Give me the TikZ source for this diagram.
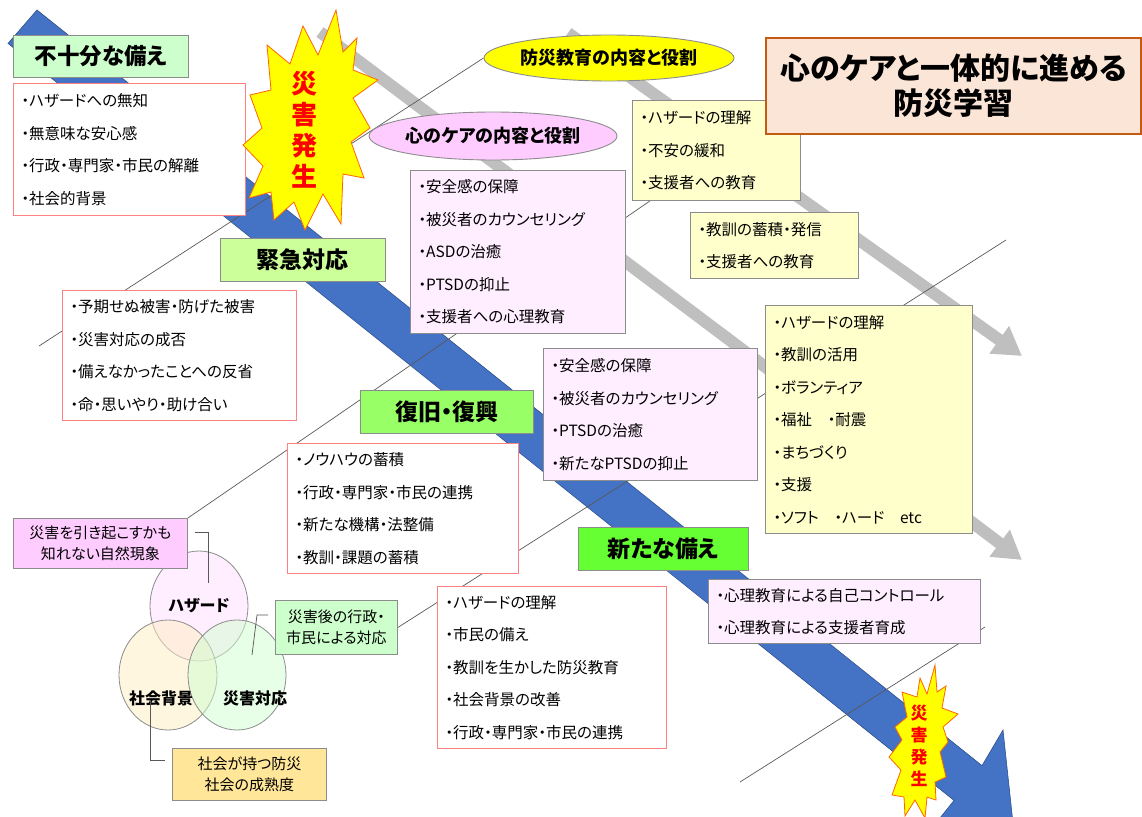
\documentclass[tikz,border=0pt]{standalone}
\usepackage{fontspec}
\setmainfont{Noto Sans CJK JP}[CharacterWidth=AlternateProportional]
\usetikzlibrary{shapes.geometric,arrows.meta}
\pgfdeclarelayer{bands}
\pgfdeclarelayer{links}
\pgfsetlayers{bands,links,main}

\definecolor{bandblue}{HTML}{4472C4}
\definecolor{bandedge}{HTML}{2F528F}
\definecolor{arrowgray}{HTML}{BFBFBF}
\definecolor{linegray}{HTML}{595959}
\definecolor{pinkedge}{HTML}{FF8080}
\definecolor{boxedge}{HTML}{8C8C8C}
\definecolor{lavender}{HTML}{FFEEFF}
\definecolor{creamy}{HTML}{FFFFCC}
\definecolor{lightgreen}{HTML}{CCFFCC}
\definecolor{limegreen}{HTML}{CCFF99}
\definecolor{brightgreen}{HTML}{99FF66}
\definecolor{vividgreen}{HTML}{66FF33}
\definecolor{peach}{HTML}{FBE5D6}
\definecolor{titleedge}{HTML}{C55A11}
\definecolor{pinkfill}{HTML}{FFCCFF}
\definecolor{sunyellow}{HTML}{FFFF00}
\definecolor{burstedge}{HTML}{FF6600}
\definecolor{burstred}{HTML}{FF0000}
\definecolor{amber}{HTML}{FFE699}
\definecolor{hazfill}{HTML}{FFDDFF}
\definecolor{socfill}{HTML}{FFEDC0}
\definecolor{resfill}{HTML}{D0FFD0}

\begin{document}
\begin{tikzpicture}[x=1pt,y=-1pt,
  listbox/.style={rectangle, anchor=north west, align=left, inner xsep=8pt, inner ysep=0pt,
    line width=0.9pt, font=\fontsize{15.5}{32.5}\selectfont},
  pinkbox/.style={listbox, draw=pinkedge, fill=white},
  lavbox/.style={listbox, draw=boxedge, fill=lavender},
  yelbox/.style={listbox, draw=boxedge, fill=creamy},
  stagelabel/.style={rectangle, anchor=north west, draw=boxedge, line width=0.9pt, inner sep=0pt,
    font=\fontsize{23}{26}\selectfont\bfseries},
  oval/.style={ellipse, draw=boxedge, line width=0.9pt, inner sep=0pt,
    font=\fontsize{18}{20}\selectfont\bfseries},
  callout/.style={rectangle, anchor=north west, draw=boxedge, line width=0.9pt, inner sep=0pt,
    align=center, font=\fontsize{15}{21}\selectfont},
  guideline/.style={draw=linegray, line width=0.7pt},
  grayarrow/.style={draw=arrowgray, line width=12pt, -{Triangle[length=28pt,width=32pt]}},
  venn/.style={ellipse, draw=boxedge, line width=0.8pt, fill opacity=0.5, draw opacity=1,
    minimum width=98pt, minimum height=110pt, inner sep=0pt},
  vennlabel/.style={font=\fontsize{16}{18}\selectfont\bfseries, inner sep=0pt},
  burst/.style={fill=sunyellow, draw=burstedge, line width=0.8pt, line join=miter},
  bursttext/.style={text=burstred, align=center, inner sep=0pt}
]
\useasboundingbox (0,0) rectangle (1142,816);
\clip (0,0) rectangle (1142,816);

% ---------- stage labels and list boxes ----------
\node[stagelabel, fill=lightgreen, minimum width=175pt, minimum height=42pt,
      font=\fontsize{22.5}{26}\selectfont\bfseries] (lab1) at (13,35) {不十分な備え};
\node[pinkbox, text width=216pt, minimum height=132pt] (b1) at (13,83)
  {・ハザードへの無知\\・無意味な安心感\\・行政・専門家・市民の解離\\・社会的背景};

\node[stagelabel, fill=limegreen, minimum width=165pt, minimum height=43pt] (lab2) at (220,238) {緊急対応};
\node[pinkbox, text width=218pt, minimum height=130pt] (b2) at (62,290)
  {・予期せぬ被害・防げた被害\\・災害対応の成否\\・備えなかったことへの反省\\・命・思いやり・助け合い};

\node[stagelabel, fill=brightgreen, minimum width=173pt, minimum height=43pt] (lab3) at (360,390) {復旧・復興};
\node[pinkbox, text width=215pt, minimum height=130pt] (b3) at (287,443)
  {・ノウハウの蓄積\\・行政・専門家・市民の連携\\・新たな機構・法整備\\・教訓・課題の蓄積};

\node[stagelabel, fill=vividgreen, minimum width=170pt, minimum height=43pt] (lab4) at (578,527) {新たな備え};
\node[pinkbox, text width=213pt, minimum height=162pt] (b4) at (437,586)
  {・ハザードの理解\\・市民の備え\\・教訓を生かした防災教育\\・社会背景の改善\\・行政・専門家・市民の連携};

% ---------- heart-care boxes ----------
\node[oval, fill=pinkfill, minimum width=248pt, minimum height=48pt] (e2) at (493,136) {心のケアの内容と役割};
\node[lavbox, text width=199pt, minimum height=163pt] (c1) at (410,170)
  {・安全感の保障\\・被災者のカウンセリング\\・ASDの治癒\\・PTSDの抑止\\・支援者への心理教育};
\node[lavbox, text width=198pt, minimum height=132pt] (c2) at (543,348)
  {・安全感の保障\\・被災者のカウンセリング\\・PTSDの治癒\\・新たなPTSDの抑止};
\node[lavbox, text width=256pt, minimum height=64pt] (c3) at (708,579)
  {・心理教育による自己コントロール\\・心理教育による支援者育成};

% ---------- education boxes ----------
\node[oval, fill=sunyellow, minimum width=247pt, minimum height=46pt] (e1) at (609,58) {防災教育の内容と役割};
\node[yelbox, text width=152pt, minimum height=100pt] (y1) at (632,100)
  {・ハザードの理解\\・不安の緩和\\・支援者への教育};
\node[yelbox, text width=152pt, minimum height=66pt] (y2) at (690,212)
  {・教訓の蓄積・発信\\・支援者への教育};
\node[yelbox, text width=191pt, minimum height=228pt] (y3) at (765,305)
  {・ハザードの理解\\・教訓の活用\\・ボランティア\\・福祉　・耐震\\・まちづくり\\・支援\\・ソフト　・ハード　etc};

% ---------- title ----------
\node[rectangle, anchor=north west, draw=titleedge, line width=2pt, fill=peach,
      minimum width=375pt, minimum height=96pt, inner sep=0pt, align=center,
      font=\fontsize{30}{35}\selectfont\bfseries] (title) at (765,37)
  {心のケアと一体的に進める\\防災学習};

% ---------- Venn diagram ----------
\node[venn, fill=hazfill] (hz) at (199,606) {};
\node[venn, fill=socfill] (sc) at (168,675) {};
\node[venn, fill=resfill] (rs) at (237,675) {};
\node[vennlabel] (hzl) at (199,606) {ハザード};
\node[vennlabel] (scl) at (161,698) {社会背景};
\node[vennlabel] (rsl) at (255,698) {災害対応};

\node[callout, fill=pinkfill, minimum width=174pt, minimum height=50pt] (v1) at (13,518)
  {災害を引き起こすかも\\知れない自然現象};
\node[callout, fill=lightgreen, minimum width=122pt, minimum height=54pt] (v2) at (275,600)
  {災害後の行政・\\市民による対応};
\node[callout, fill=amber, minimum width=154pt, minimum height=52pt] (v3) at (172,748)
  {社会が持つ防災\\社会の成熟度};

\coordinate (k1a) at (195,532); \coordinate (k1b) at (208,532); \coordinate (k1c) at (208,583);
\coordinate (k2a) at (268,615); \coordinate (k2b) at (257,615); \coordinate (k2c) at (252,655);
\coordinate (k3a) at (150,700); \coordinate (k3b) at (150,760); \coordinate (k3c) at (165,760);
\draw[guideline] (k1a) -- (k1b) -- (k1c);
\draw[guideline] (k2a) -- (k2b) -- (k2c);
\draw[guideline] (k3a) -- (k3b) -- (k3c);

% ---------- starbursts ----------
\filldraw[burst] (336,10) -- (343,52) -- (357,38) -- (353,70) -- (378,80) -- (353,98)
  -- (370,128) -- (351,142) -- (364,178) -- (343,174) -- (341,224) -- (323,194)
  -- (305,230) -- (294,202) -- (274,220) -- (271,192) -- (249,198) -- (263,166)
  -- (243,145) -- (262,128) -- (250,95) -- (271,90) -- (267,45) -- (290,64)
  -- (303,26) -- (318,55) -- cycle;
\node[bursttext, font=\fontsize{26}{31}\selectfont\bfseries] (burst1) at (304,130) {災\\害\\発\\生};

\filldraw[burst] (935,665) -- (937,692) -- (946,686) -- (942,708) -- (958,714) -- (943,727)
  -- (948,742) -- (940,752) -- (946,777) -- (935,782) -- (936,800) -- (927,797)
  -- (925,818) -- (915,800) -- (905,816) -- (904,797) -- (892,795) -- (901,770)
  -- (889,757) -- (902,740) -- (895,727) -- (907,717) -- (902,692) -- (917,697)
  -- (920,678) -- (927,694) -- cycle;
\node[bursttext, font=\fontsize{17}{22}\selectfont\bfseries] (burst2) at (919,746) {災\\害\\発\\生};

% ---------- background: arrows ----------
\begin{pgfonlayer}{bands}
  \coordinate (g1s) at (568,33); \coordinate (g1e) at (1022,356);
  \coordinate (g2s) at (320,32); \coordinate (g2e) at (1022,560);
  \draw[grayarrow] (g1s) -- (g1e);
  \draw[grayarrow] (g2s) -- (g2e);
  \filldraw[fill=bandblue, draw=bandedge, line width=0.6pt, line join=miter]
    (37,10) -- (982,765.6) -- (1003,730) -- (1012.5,818.6) -- (928.4,832.4)
    -- (954,800.4) -- (8,43.4) -- cycle;
\end{pgfonlayer}

% ---------- background: thin guide lines ----------
\begin{pgfonlayer}{links}
  \coordinate (l1s) at (39,346);
  \coordinate (l3e) at (1006,240);
  \coordinate (l4s) at (740,782); \coordinate (l4e) at (985,627);
  \draw[guideline] (l1s) -- (e1.west);
  \draw[guideline] (v1.north east) -- ([xshift=18pt]y1.south west);
  \draw[guideline] (v2.east) -- (l3e);
  \draw[guideline] (l4s) -- (l4e);
\end{pgfonlayer}
\end{tikzpicture}
\end{document}
